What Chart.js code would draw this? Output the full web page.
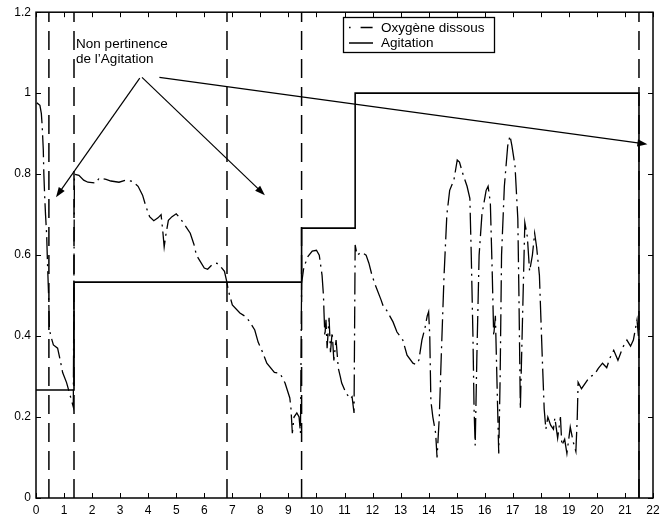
<!DOCTYPE html>
<html><head><meta charset="utf-8">
<script src="https://cdn.jsdelivr.net/npm/chart.js@4"></script>
<style>html,body{margin:0;padding:0;background:#fff}</style>
</head><body>
<canvas id="c" width="672" height="519" style="display:block;width:672px;height:519px"></canvas>
<script>
// ---- data ----
const seriesNames = ['Oxygène dissous', 'Agitation'];
const oxygenX = [0.03,0.14,0.19,0.22,0.26,0.28,0.31,0.34,0.38,0.41,0.45,0.48,0.55,0.62,0.77,0.85,0.95,1.09,1.19,1.33,
  1.37,1.53,1.70,1.85,2.14,2.25,2.50,2.67,2.96,3.20,3.45,3.64,3.80,3.92,4.05,4.20,4.35,4.46,4.52,4.57,4.63,4.72,4.85,5.00,5.15,5.30,5.50,5.63,5.72,5.85,6.00,6.12,6.30,6.45,6.60,6.72,6.80,6.86,7.00,7.27,7.50,7.62,7.80,7.92,8.05,8.23,8.50,8.70,8.88,9.05,9.09,9.14,9.20,9.30,9.38,9.43,
  9.47,9.55,9.70,9.85,10.00,10.10,10.20,10.25,10.27,10.30,10.34,10.38,10.45,10.50,10.56,10.62,10.70,10.78,10.85,10.90,11.05,11.20,11.27,11.34,
  11.38,11.45,11.60,11.77,11.87,11.98,12.10,12.30,12.40,12.50,12.73,12.87,13.08,13.23,13.44,13.55,13.65,13.76,13.87,13.95,14.00,14.04,14.08,14.15,14.25,14.30,14.38,14.45,14.55,14.65,14.75,14.90,15.02,15.10,15.20,15.37,15.47,15.52,15.58,15.62,15.66,15.72,15.80,15.90,16.05,16.12,16.20,16.27,16.32,16.38,16.45,16.50,16.55,16.60,16.70,16.82,16.90,16.97,17.08,17.18,17.22,17.27,17.35,17.43,17.52,17.60,17.70,17.78,17.85,17.95,18.05,18.12,18.18,18.25,18.35,18.45,18.50,18.60,18.70,18.75,18.85,18.93,19.05,19.15,19.25,19.30,19.33,19.45,19.60,19.75,19.90,20.05,20.20,20.35,20.46,20.60,20.75,20.93,21.07,21.20,21.30,21.43,21.48];
const oxygenY = [0.976,0.970,0.950,0.920,0.860,0.800,0.745,0.700,0.650,0.580,0.500,0.415,0.395,0.378,0.370,0.345,0.310,0.285,0.260,0.225,
  0.800,0.797,0.785,0.780,0.778,0.790,0.787,0.783,0.780,0.785,0.782,0.770,0.748,0.720,0.695,0.685,0.692,0.700,0.660,0.620,0.650,0.686,0.695,0.702,0.690,0.675,0.654,0.627,0.600,0.585,0.568,0.565,0.578,0.580,0.570,0.560,0.535,0.512,0.477,0.457,0.447,0.435,0.415,0.385,0.365,0.333,0.310,0.308,0.284,0.247,0.222,0.160,0.200,0.210,0.200,0.160,
  0.530,0.570,0.597,0.610,0.612,0.600,0.550,0.500,0.457,0.400,0.440,0.370,0.445,0.360,0.410,0.340,0.390,0.320,0.300,0.284,0.260,0.245,0.250,0.210,
  0.625,0.600,0.607,0.600,0.580,0.550,0.526,0.490,0.470,0.464,0.435,0.410,0.390,0.353,0.333,0.330,0.340,0.390,0.420,0.450,0.460,0.400,0.240,0.200,0.160,0.100,0.200,0.350,0.550,0.700,0.760,0.785,0.835,0.830,0.805,0.770,0.740,0.600,0.400,0.220,0.130,0.350,0.600,0.700,0.760,0.770,0.730,0.550,0.400,0.450,0.250,0.110,0.300,0.600,0.770,0.870,0.895,0.870,0.820,0.690,0.500,0.220,0.450,0.680,0.645,0.560,0.600,0.654,0.620,0.550,0.350,0.220,0.170,0.200,0.180,0.170,0.198,0.148,0.200,0.130,0.145,0.110,0.175,0.140,0.115,0.200,0.286,0.270,0.285,0.300,0.304,0.320,0.333,0.322,0.345,0.365,0.340,0.373,0.390,0.375,0.390,0.440,0.400];
const agitationX = [0, 1.355, 9.47, 11.38, 21.5];
const agitationY = [0.2667, 0.5333, 0.6667, 1.0, 0];
const markerX = [0.46, 1.355, 6.81, 9.47, 21.5];
const xTicks = [0,1,2,3,4,5,6,7,8,9,10,11,12,13,14,15,16,17,18,19,20,21,22];
const yTicks = [0, 0.2, 0.4, 0.6, 0.8, 1, 1.2];
const noteLines = ['Non pertinence', 'de l\u2019Agitation'];

// ---- annotation placement (data coordinates) ----
const note = { x: 1.43, y1: 1.112, y2: 1.075 };
const arrows = [
  { from: [3.70, 1.037], to: [0.713, 0.743] },
  { from: [3.78, 1.039], to: [8.16, 0.748] },
  { from: [4.40, 1.039], to: [21.80, 0.874] }
];

const FONT = '"Liberation Sans", Arial, Helvetica, sans-serif';

const datasets = [
  {
    label: seriesNames[0],
    data: oxygenX.map((x, i) => ({ x, y: oxygenY[i] })),
    borderColor: '#000', borderWidth: 1.3, borderDash: [22, 5, 2, 5],
    pointRadius: 0, tension: 0, fill: false
  },
  {
    label: seriesNames[1],
    data: agitationX.map((x, i) => ({ x, y: agitationY[i] })),
    borderColor: '#000', borderWidth: 1.6, stepped: 'before',
    pointRadius: 0, tension: 0, fill: false
  }
];
markerX.forEach(mx => datasets.push({
  label: '_marker',
  data: [{ x: mx, y: 0 }, { x: mx, y: 1.2 }],
  borderColor: '#000', borderWidth: 1.5, borderDash: [19, 9],
  pointRadius: 0, fill: false
}));

function drawArrow(ctx, x0, y0, x1, y1) {
  const ang = Math.atan2(y1 - y0, x1 - x0);
  const L = 10, W = 3.6;
  ctx.beginPath();
  ctx.moveTo(x0, y0);
  ctx.lineTo(x1 - L * 0.8 * Math.cos(ang), y1 - L * 0.8 * Math.sin(ang));
  ctx.stroke();
  ctx.beginPath();
  ctx.moveTo(x1, y1);
  ctx.lineTo(x1 - L * Math.cos(ang) + W * Math.sin(ang), y1 - L * Math.sin(ang) - W * Math.cos(ang));
  ctx.lineTo(x1 - L * Math.cos(ang) - W * Math.sin(ang), y1 - L * Math.sin(ang) + W * Math.cos(ang));
  ctx.closePath();
  ctx.fill();
}

const framePlugin = {
  id: 'frame',
  afterDatasetsDraw(chart) {
    const { ctx, chartArea: a, scales: { x, y } } = chart;
    ctx.save();
    ctx.setLineDash([]);
    ctx.strokeStyle = '#000';
    ctx.fillStyle = '#000';
    // inside tick marks on all four sides
    ctx.lineWidth = 1;
    ctx.beginPath();
    xTicks.forEach(v => {
      const px = Math.round(x.getPixelForValue(v)) + 0.5;
      ctx.moveTo(px, a.bottom); ctx.lineTo(px, a.bottom - 5);
      ctx.moveTo(px, a.top); ctx.lineTo(px, a.top + 5);
    });
    yTicks.forEach(v => {
      const py = Math.round(y.getPixelForValue(v)) + 0.5;
      ctx.moveTo(a.left, py); ctx.lineTo(a.left + 5, py);
      ctx.moveTo(a.right, py); ctx.lineTo(a.right - 5, py);
    });
    ctx.stroke();
    // frame
    ctx.lineWidth = 1.5;
    ctx.strokeRect(a.left, a.top, a.right - a.left, a.bottom - a.top);
    // arrows
    ctx.lineWidth = 1.2;
    arrows.forEach(ar => drawArrow(ctx,
      x.getPixelForValue(ar.from[0]), y.getPixelForValue(ar.from[1]),
      x.getPixelForValue(ar.to[0]), y.getPixelForValue(ar.to[1])));
    // note text
    ctx.font = '13.5px ' + FONT;
    ctx.textAlign = 'left';
    ctx.textBaseline = 'alphabetic';
    ctx.fillText(noteLines[0], x.getPixelForValue(note.x), y.getPixelForValue(note.y1));
    ctx.fillText(noteLines[1], x.getPixelForValue(note.x), y.getPixelForValue(note.y2));
    // legend box
    const lx = 343, ly = 17, lw = 151, lh = 35;
    ctx.fillStyle = '#fff';
    ctx.fillRect(lx, ly, lw, lh);
    ctx.fillStyle = '#000';
    ctx.lineWidth = 1.3;
    ctx.strokeRect(lx + 0.5, ly + 0.5, lw, lh);
    const rows = [ly + 10.5, ly + 26];
    ctx.lineWidth = 1.3;
    ctx.setLineDash([1.6, 10, 12, 50]);
    ctx.beginPath(); ctx.moveTo(349, rows[0]); ctx.lineTo(373, rows[0]); ctx.stroke();
    ctx.setLineDash([]);
    ctx.lineWidth = 1.5;
    ctx.beginPath(); ctx.moveTo(349, rows[1]); ctx.lineTo(373, rows[1]); ctx.stroke();
    ctx.font = '13.5px ' + FONT;
    ctx.textBaseline = 'middle';
    ctx.fillText(chart.data.datasets[0].label, 381, rows[0] + 0.5);
    ctx.fillText(chart.data.datasets[1].label, 381, rows[1] + 0.5);
    ctx.restore();
  }
};

new Chart(document.getElementById('c'), {
  type: 'line',
  data: { datasets },
  options: {
    responsive: false,
    animation: false,
    devicePixelRatio: 1,
    layout: { padding: { left: 0, right: 19, top: 12, bottom: 0 } },
    plugins: { legend: { display: false }, tooltip: { enabled: false } },
    scales: {
      x: {
        type: 'linear', min: 0, max: 22,
        afterFit(s) { s.height = 21; },
        afterBuildTicks(s) { s.ticks = xTicks.map(v => ({ value: v })); },
        grid: { display: false, drawTicks: false },
        border: { display: false },
        ticks: { color: '#000', font: { family: FONT, size: 12 }, padding: 5, maxRotation: 0, autoSkip: false,
          callback: v => String(v) }
      },
      y: {
        type: 'linear', min: 0, max: 1.2,
        afterFit(s) { s.width = 36; },
        afterBuildTicks(s) { s.ticks = yTicks.map(v => ({ value: v })); },
        grid: { display: false, drawTicks: false },
        border: { display: false },
        ticks: { color: '#000', font: { family: FONT, size: 12 }, padding: 5, autoSkip: false,
          callback: v => String(Number(v.toFixed(1))) }
      }
    }
  },
  plugins: [framePlugin]
});
</script>
</body></html>
